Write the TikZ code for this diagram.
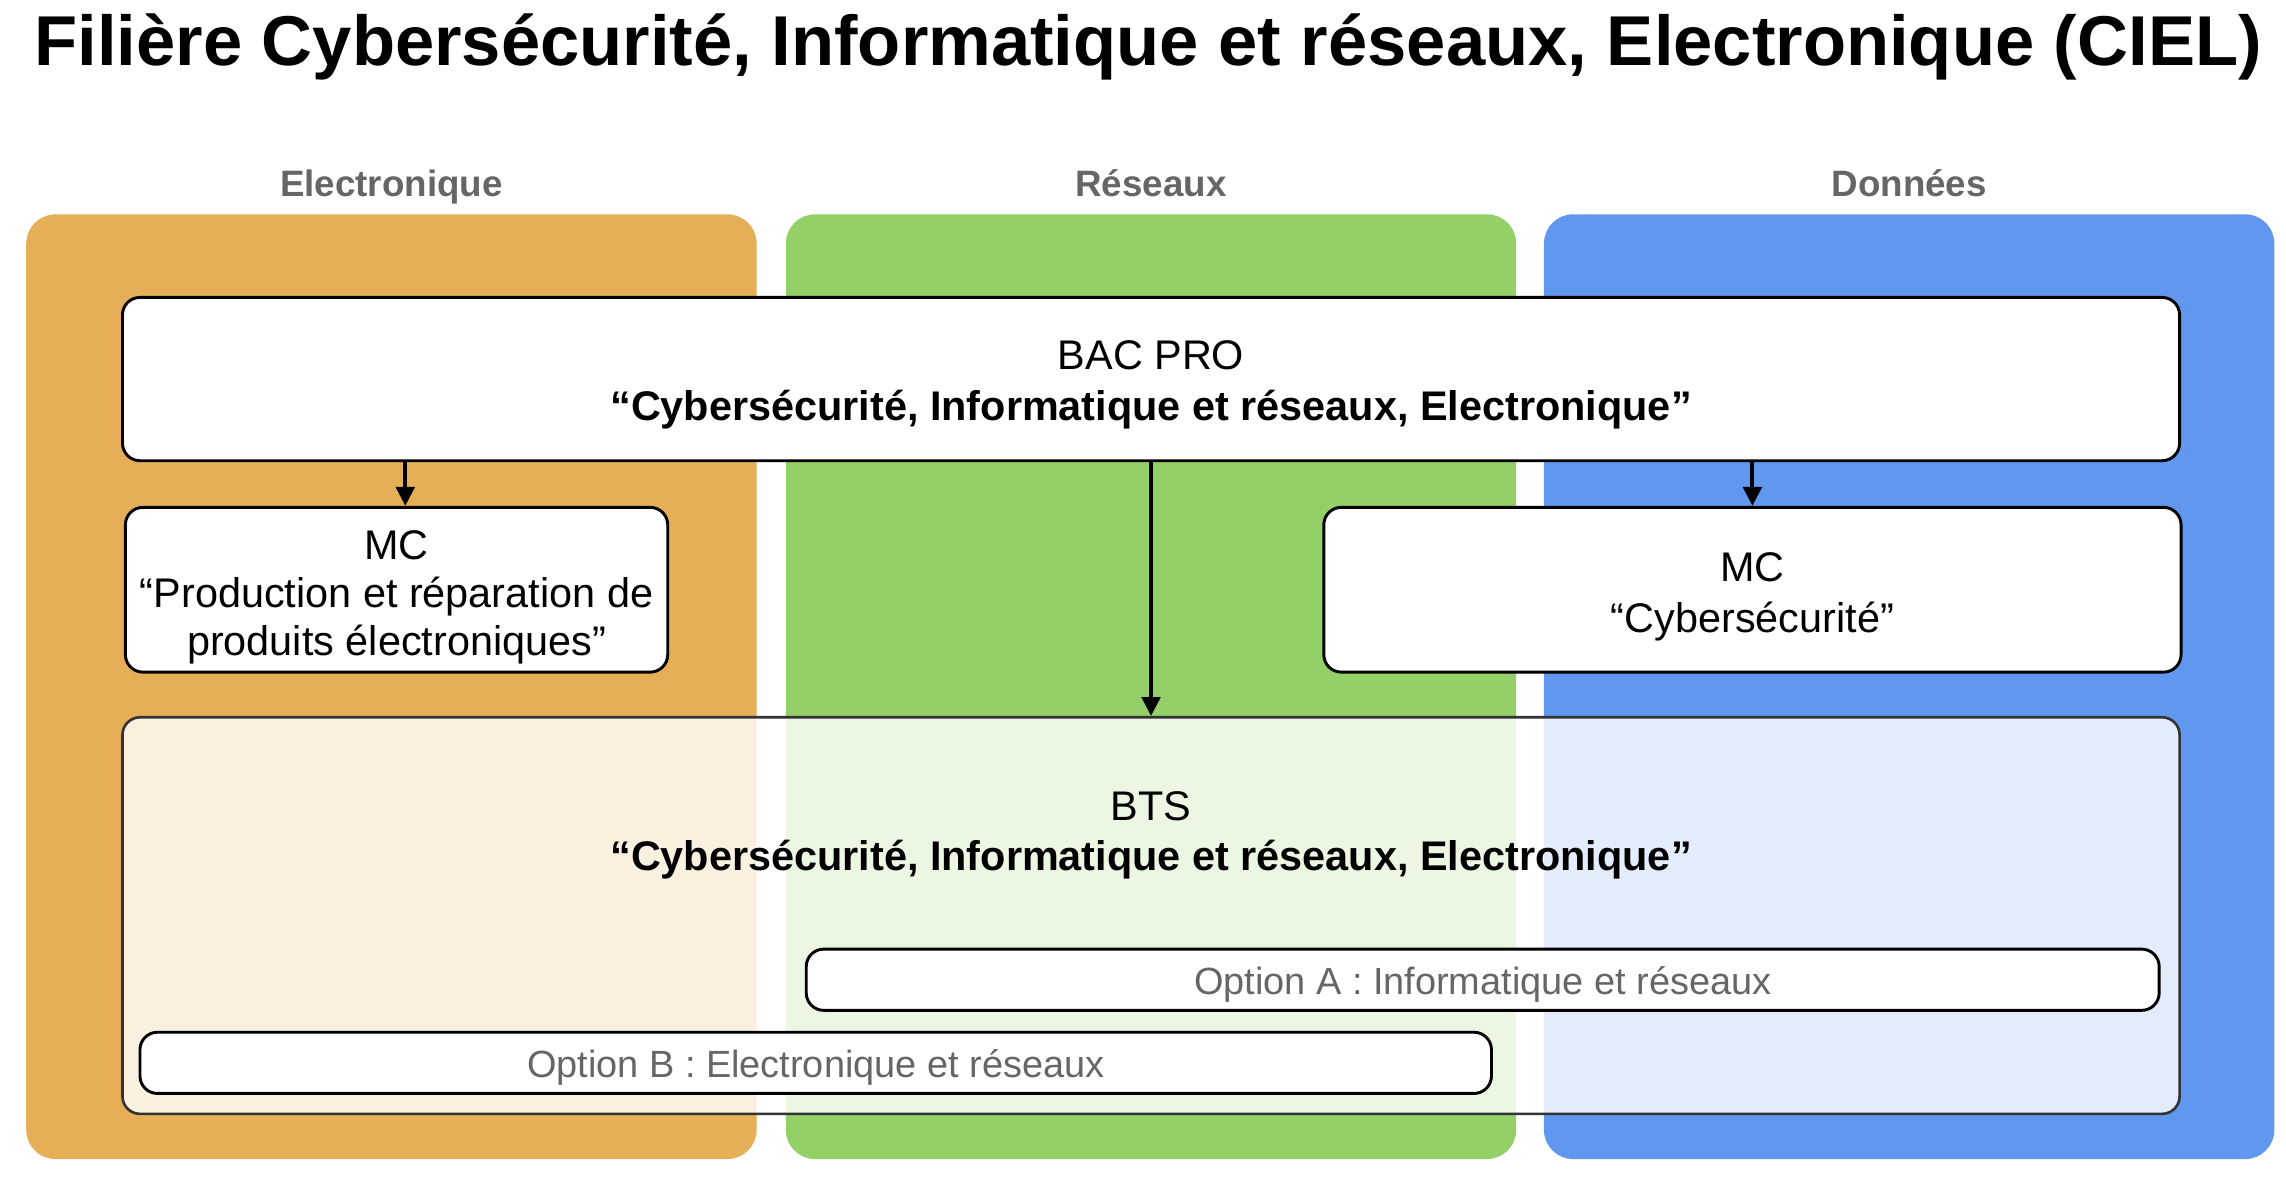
\documentclass[tikz,border=0pt]{standalone}
\usepackage{fontspec}
\setmainfont{Liberation Sans}
\usetikzlibrary{arrows.meta,calc}
\definecolor{colE}{HTML}{E6AF57}
\definecolor{colR}{HTML}{93D067}
\definecolor{colD}{HTML}{5F98EE}
\definecolor{labgrey}{HTML}{666666}
\definecolor{btsborder}{HTML}{333333}
\tikzset{
  column/.style={rounded corners=10pt},
  collabel/.style={anchor=base,text=labgrey,font=\fontsize{12.6}{15}\selectfont\bfseries},
  whitebox/.style={draw=black,fill=white,line width=1pt,rounded corners=6pt,inner sep=0pt},
  boxtext/.style={align=center,inner sep=0pt,font=\fontsize{14.2}{17.3}\selectfont},
  btsbox/.style={draw=btsborder,fill=white,fill opacity=0.82,line width=0.9pt,rounded corners=6pt,inner sep=0pt},
  optbox/.style={draw=black,fill=white,line width=1pt,rounded corners=6pt,inner sep=0pt,text=labgrey,font=\fontsize{13}{15}\selectfont},
  arr/.style={-{Triangle[length=6.5pt,width=6.3pt]},line width=1.4pt,black}
}
\begin{document}
\begin{tikzpicture}[x=0.5pt,y=-0.5pt]
\useasboundingbox (0,0) rectangle (1568,810);
% title
\node[anchor=base,font=\fontsize{24.2}{28}\selectfont\bfseries] (title) at (787.5,45) {Filière Cybersécurité, Informatique et réseaux, Electronique (CIEL)};
% columns
\fill[colE,column] (18,147) rectangle (519,795);
\fill[colR,column] (539,147) rectangle (1040,795);
\fill[colD,column] (1059,147) rectangle (1560,795);
\node[collabel] (labE) at (268.5,135) {Electronique};
\node[collabel] (labR) at (789.5,135) {Réseaux};
\node[collabel] (labD) at (1309.5,135) {Données};
% BAC PRO
\node[whitebox,minimum width=705.5pt,minimum height=56pt] (bac) at (789.5,260) {};
\node[boxtext] (bactext) at ($(bac.center)+(0,4)$) {BAC PRO\\\bfseries “Cybersécurité, Informatique et réseaux, Electronique”};
% MC boxes
\node[whitebox,minimum width=186pt,minimum height=56.5pt] (mcl) at (272,404.5) {};
\node[boxtext,font=\fontsize{14.2}{16.5}\selectfont] (mcltext) at ($(mcl.center)+(0,5)$) {MC\\“Production et réparation de\\produits électroniques”};
\node[whitebox,minimum width=294pt,minimum height=56.5pt] (mcr) at (1202,404.5) {};
\node[boxtext] (mcrtext) at ($(mcr.center)+(0,5)$) {MC\\“Cybersécurité”};
% BTS
\node[btsbox,minimum width=705.5pt,minimum height=136pt] (bts) at (789.5,628) {};
\node[boxtext] (btstext) at (789.5,573) {BTS\\\bfseries “Cybersécurité, Informatique et réseaux, Electronique”};
% options
\node[optbox,minimum width=464pt,minimum height=21pt] (optA) at (1017,672) {};
\node[inner sep=0pt,text=labgrey,font=\fontsize{13}{15}\selectfont] (optAtext) at ($(optA.center)+(0,3)$) {Option A : Informatique et réseaux};
\node[optbox,minimum width=463.5pt,minimum height=21pt] (optB) at (559.5,729) {};
\node[inner sep=0pt,text=labgrey,font=\fontsize{13}{15}\selectfont] (optBtext) at ($(optB.center)+(0,3)$) {Option B : Electronique et réseaux};
% arrows
\coordinate (aL) at ($(mcl.north)+(6,0)$);
\draw[arr] (aL |- bac.south) -- (aL);
\draw[arr] (bac.south) -- (bts.north);
\draw[arr] (mcr.north |- bac.south) -- (mcr.north);
\end{tikzpicture}
\end{document}
